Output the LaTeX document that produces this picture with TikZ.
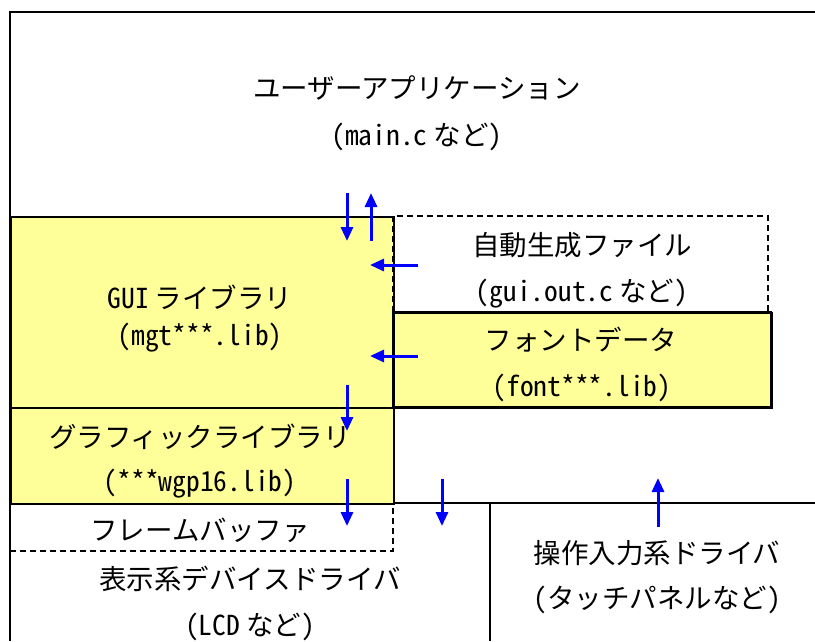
\documentclass[tikz,border=0pt]{standalone}
\usepackage{fontspec}
\newfontfamily\jp[RawFeature=+hwid]{Noto Sans CJK JP}
\usetikzlibrary{arrows.meta}
\definecolor{libyellow}{RGB}{255,255,153}
\definecolor{arrblue}{RGB}{0,0,255}
\newcommand\gapsp{\hspace{0.22em}}
\tikzset{
  solidline/.style={draw=black,line width=1.6pt},
  dashline/.style={draw=black,line width=1.3pt,dash pattern=on 6pt off 4pt},
  lbl/.style={font=\jp\fontsize{27.5}{32}\selectfont,inner sep=0pt,anchor=center},
  flow/.style={draw=arrblue,line width=3pt,-{Triangle[length=14pt,width=12pt]}},
}
\begin{document}
\begin{tikzpicture}[x=1pt,y=-1pt]
\useasboundingbox (0,0) rectangle (815,641);
% yellow library boxes
\node[solidline,fill=libyellow,anchor=north west,minimum width=383pt,minimum height=191pt,inner sep=0pt] (gui) at (10,216) {};
\node[solidline,fill=libyellow,anchor=north west,minimum width=378pt,minimum height=95pt,inner sep=0pt] (font) at (393,312) {};
\node[solidline,fill=libyellow,anchor=north west,minimum width=383pt,minimum height=96pt,inner sep=0pt] (gfx) at (10,407) {};
% dashed auto-generated file box
\draw[dashline] (393,312) -- (393,216) -- (768,216) -- (768,312);
% frame buffer dashed
\draw[dashline] (10,551) -- (393,551) -- (393,503);
% redraw solid box on top
\draw[solidline] (393,312) rectangle (771,407);
% outer frame
\draw[solidline] (815,12) -- (10,12) -- (10,641);
% bottom separators
\draw[solidline] (393,503) -- (815,503);
\draw[solidline] (490,503) -- (490,641);
% labels
\node[lbl] (app1) at (417,88) {ユーザーアプリケーション};
\node[lbl] (app2) at (417,137) {(main.c\gapsp など)};
\node[lbl] (auto1) at (582,245) {自動生成ファイル};
\node[lbl] (auto2) at (582,294) {(gui.out.c\gapsp など)};
\node[lbl] (font1) at (581,340) {フォントデータ};
\node[lbl] (font2) at (582,388) {(font***.lib)};
\node[lbl] (gui1) at (200,297) {GUI\gapsp ライブラリ};
\node[lbl] (gui2) at (200,338) {(mgt***.lib)};
\node[lbl] (gfx1) at (200,437) {グラフィックライブラリ};
\node[lbl] (gfx2) at (200,484) {(***wgp16.lib)};
\node[lbl] (fb) at (200,530) {フレームバッファ};
\node[lbl] (disp1) at (250,579) {表示系デバイスドライバ};
\node[lbl] (disp2) at (250,627) {(LCD\gapsp など)};
\node[lbl] (inp1) at (657,553) {操作入力系ドライバ};
\node[lbl] (inp2) at (657,600) {(タッチパネルなど)};
% arrow end points
\coordinate (a1s) at (347,193); \coordinate (a1e) at (347,241);
\coordinate (a2s) at (371,241); \coordinate (a2e) at (371,193);
\coordinate (a3s) at (418,265); \coordinate (a3e) at (370,265);
\coordinate (a4s) at (418,356); \coordinate (a4e) at (370,356);
\coordinate (a5s) at (347,385); \coordinate (a5e) at (347,431);
\coordinate (a6s) at (347,479); \coordinate (a6e) at (347,526);
\coordinate (a7s) at (442,479); \coordinate (a7e) at (442,526);
\coordinate (a8s) at (658,527); \coordinate (a8e) at (658,478);
\draw[flow] (a1s) -- (a1e);
\draw[flow] (a2s) -- (a2e);
\draw[flow] (a3s) -- (a3e);
\draw[flow] (a4s) -- (a4e);
\draw[flow] (a5s) -- (a5e);
\draw[flow] (a6s) -- (a6e);
\draw[flow] (a7s) -- (a7e);
\draw[flow] (a8s) -- (a8e);
\end{tikzpicture}
\end{document}
